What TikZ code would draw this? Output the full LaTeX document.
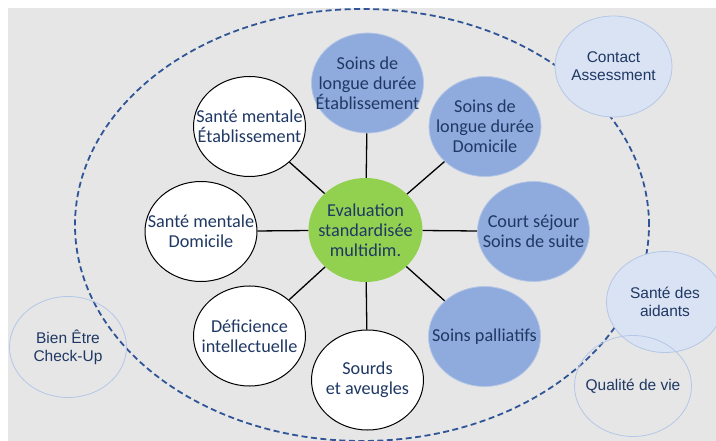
\documentclass[tikz,border=0pt]{standalone}
\usepackage{fontspec}
\usetikzlibrary{shapes.geometric}
\newfontfamily\carlfont{Carlito}
\newfontfamily\arlfont{Liberation Sans}
\definecolor{bggray}{HTML}{E6E6E6}
\definecolor{navy}{HTML}{1F3864}
\definecolor{midblue}{HTML}{8FAADC}
\definecolor{paleblue}{HTML}{DAE3F3}
\definecolor{paleline}{HTML}{B4C7E7}
\definecolor{greenc}{HTML}{92D050}
\definecolor{dashblue}{HTML}{2F5597}
\tikzset{
  btxt/.style={align=center, text=navy, inner sep=0pt, font=\carlfont\fontsize{18.2}{20}\selectfont},
  otxt/.style={align=center, text=navy, inner sep=0pt, font=\arlfont\fontsize{15.5}{18}\selectfont},
  bub/.style={ellipse, minimum width=112pt, minimum height=100pt, inner sep=0pt},
  whitebub/.style={bub, fill=white, draw=black, line width=1pt},
  bluebub/.style={bub, fill=midblue, draw=paleline, line width=0.8pt},
  greenbub/.style={bub, fill=greenc, minimum width=114pt, minimum height=104pt},
  outerbub/.style={ellipse, minimum width=117pt, minimum height=101pt, inner sep=0pt,
    draw=paleline, line width=0.8pt},
  spoke/.style={draw=black, line width=1.3pt},
}
\begin{document}
\begin{tikzpicture}[x=1pt,y=-1pt]
\useasboundingbox (0,0) rectangle (716,441);
\fill[white] (0,0) rectangle (716,441);
\fill[bggray] (8,8) rectangle (716,441);
\begin{scope}
\clip (8,8) rectangle (716,441);
\draw[dashblue, line width=1.8pt, dash pattern=on 6pt off 3.5pt] (362,225) ellipse [x radius=287pt, y radius=216pt];
\end{scope}
\node[greenbub, label={[btxt]center:{Evaluation\\standardisée\\multidim.}}] (C) at (365.5,230) {};
\node[bluebub, label={[btxt]center:{Soins de\\longue durée\\Établissement}}] (SLE) at (367.5,83) {};
\node[bluebub, label={[btxt]center:{Soins de\\longue durée\\Domicile}}] (SLD) at (485,126.5) {};
\node[bluebub, label={[btxt]center:{Court séjour\\Soins de suite}}] (CS) at (533.5,231.5) {};
\node[bluebub, label={[btxt]center:{Soins palliatifs}}] (SP) at (484.5,336.5) {};
\node[whitebub, label={[btxt]center:{Sourds\\et aveugles}}] (SA) at (367.5,380) {};
\node[whitebub, label={[btxt]center:{Déficience\\intellectuelle}}] (DI) at (249.5,336) {};
\node[whitebub, label={[btxt]center:{Santé mentale\\Domicile}}] (SMD) at (201,231.5) {};
\node[whitebub, label={[btxt]center:{Santé mentale\\Établissement}}] (SME) at (249.5,126.5) {};
\foreach \n in {SLE,SLD,CS,SP,SA,DI,SMD,SME}{\draw[spoke] (C) -- (\n);}
\begin{scope}
\clip (8,8) rectangle (716,441);
\node[outerbub, fill=paleblue, label={[otxt]center:{Contact\\Assessment}}] (CA) at (613.5,66.5) {};
\node[outerbub, fill=paleblue, label={[otxt]center:{Santé des\\aidants}}] (SDA) at (665,302) {};
\node[outerbub, label={[otxt]center:{Qualité de vie}}] (QV) at (633,386) {};
\node[outerbub, label={[otxt]center:{Bien Être\\Check-Up}}] (BE) at (68,347) {};
\end{scope}
\end{tikzpicture}
\end{document}
